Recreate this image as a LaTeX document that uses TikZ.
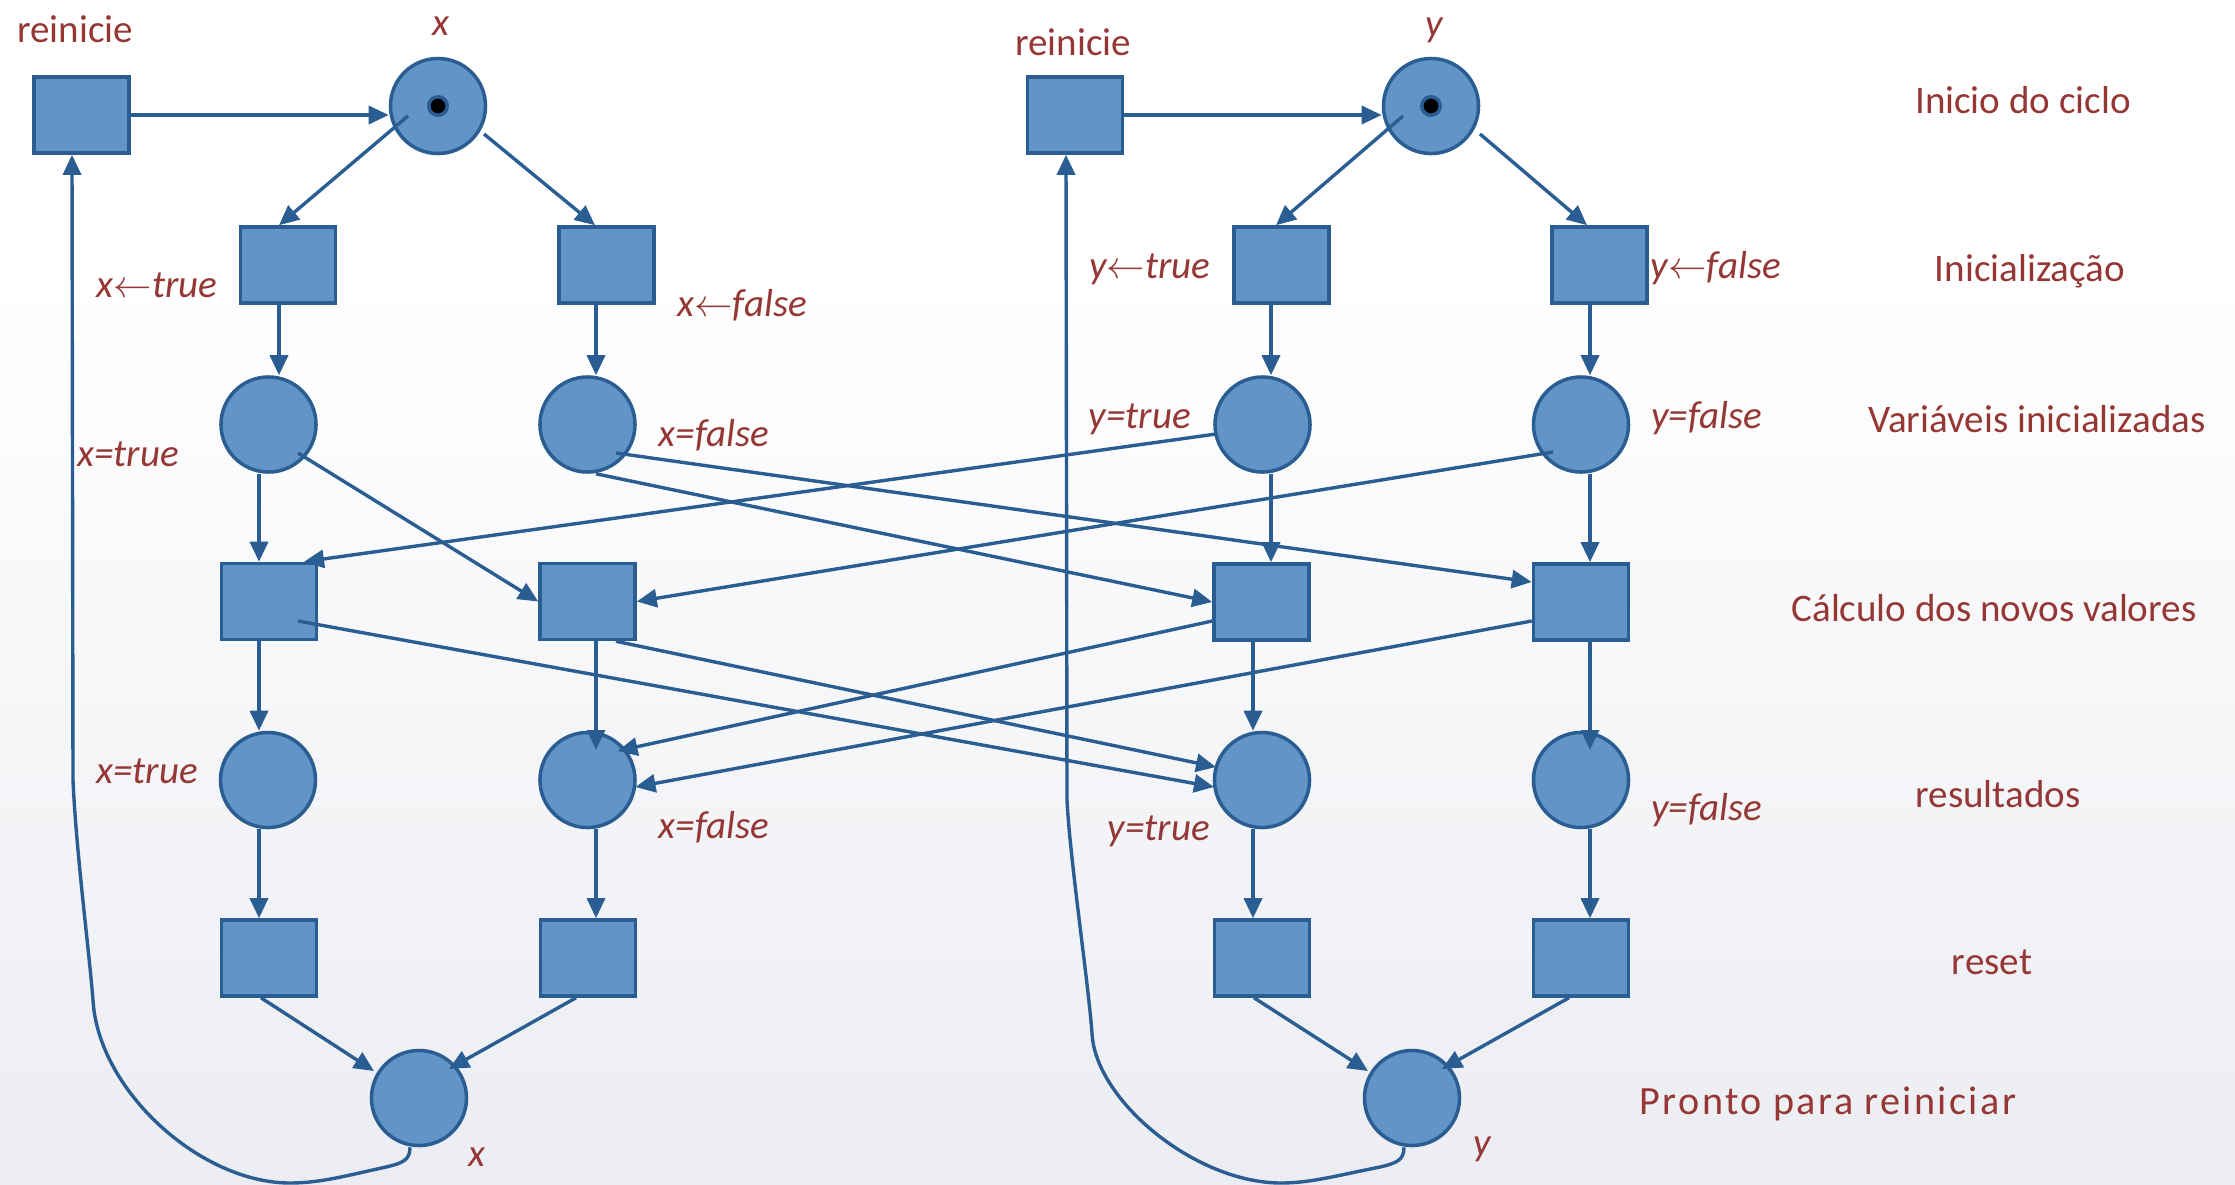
\documentclass[tikz,border=0pt]{standalone}
\usepackage{fontspec}
\setmainfont{Carlito}
\usetikzlibrary{arrows.meta}
\definecolor{netfill}{RGB}{97,148,199}
\definecolor{netline}{RGB}{42,94,146}
\definecolor{labelred}{RGB}{149,55,53}
\definecolor{bgbottom}{RGB}{236,237,242}

\begin{document}
\begin{tikzpicture}[x=0.01cm, y=-0.01cm,
  place/.style={circle, draw=netline, fill=netfill, line width=0.035cm,
    minimum size=0.95cm, inner sep=0pt},
  trans/.style={rectangle, draw=netline, fill=netfill, line width=0.035cm,
    minimum width=0.95cm, minimum height=0.76cm, inner sep=0pt},
  token/.style={circle, fill=black, draw=netline, line width=0.035cm,
    minimum size=0.185cm, inner sep=0pt},
  arc/.style={draw=netline, line width=0.034cm,
    -{Triangle[length=0.2cm,width=0.18cm]}},
  lbl/.style={text=labelred, font=\fontsize{11.1}{13}\selectfont,
    anchor=base, inner sep=0pt},
  var/.style={lbl, font=\fontsize{11.1}{13}\selectfont\itshape},
]
% background
\useasboundingbox (0,0) rectangle (2235,1184);
\fill[white] (0,0) rectangle (2235,1184);
\shade[top color=white, bottom color=bgbottom] (0,280) rectangle (2235,1184);

% ---- net for x ----
\node[trans] (R1) at (81.5,115) {};
\node[place] (Px) at (438,106) {};
\node[token] (kx) at (Px) {};
\node[trans] (T1) at (288,265) {};
\node[trans] (T2) at (606.5,265) {};
\node[place] (P1) at (268.5,424.5) {};
\node[place] (P2) at (587.5,424.5) {};
\node[trans] (C1) at (269,601.5) {};
\node[trans] (C2) at (587.5,601.5) {};
\node[place] (Q1) at (268,780) {};
\node[place] (Q2) at (587.5,780) {};
\node[trans] (X1) at (269,958) {};
\node[trans] (X2) at (588,958) {};
\node[place] (F1) at (419,1098) {};

% ---- net for y ----
\node[trans] (R2) at (1075,115) {};
\node[place] (Py) at (1431,106) {};
\node[token] (ky) at (Py) {};
\node[trans] (T3) at (1281.5,265) {};
\node[trans] (T4) at (1599.5,265) {};
\node[place] (P3) at (1262.5,424.5) {};
\node[place] (P4) at (1581,424.5) {};
\node[trans] (C3) at (1261.5,602) {};
\node[trans] (C4) at (1581,602) {};
\node[place] (Q3) at (1262,780) {};
\node[place] (Q4) at (1581,780) {};
\node[trans] (X3) at (1262,958) {};
\node[trans] (X4) at (1581,958) {};
\node[place] (F2) at (1412,1098) {};

% ---- arcs, x side ----
\draw[arc] (R1.east) -- (R1.east -| Px.west);
\draw[arc] ([shift={(-30,10)}]Px.center) -- ([shift={(-9,0)}]T1.north);
\draw[arc] ([shift={(46,28)}]Px.center) -- ([shift={(-11.5,0)}]T2.north);
\draw[arc] ([shift={(-9,0)}]T1.south) -- ([shift={(10.5,0)}]P1.north);
\draw[arc] ([shift={(-10.5,0)}]T2.south) -- ([shift={(8.5,0)}]P2.north);
\draw[arc] ([shift={(-9.5,0)}]P1.south) -- ([shift={(-10,0)}]C1.north);
\draw[arc] ([shift={(29.5,28.5)}]P1.center) -- (C2.west);
\draw[arc] ([shift={(8.5,0)}]P2.south) -- (C3.west);
\draw[arc] ([shift={(28.5,28.5)}]P2.center) -- ([shift={(0,-20)}]C4.west);
\draw[arc] ([shift={(-10,0)}]C1.south) -- ([shift={(-9,0)}]Q1.north);
\draw[arc] ([shift={(29,19.5)}]C1.center) -- ([shift={(-48,7)}]Q3.center);
\draw[arc] ([shift={(8.5,0)}]C2.south) -- ([shift={(8.5,-30)}]Q2.center);
\draw[arc] ([shift={(28.5,0)}]C2.south) -- ([shift={(-46,-13)}]Q3.center);
\draw[arc] ([shift={(-9,0)}]Q1.south) -- ([shift={(-10,0)}]X1.north);
\draw[arc] ([shift={(8.5,0)}]Q2.south) -- ([shift={(8,0)}]X2.north);
\draw[arc] ([shift={(-8,0)}]X1.south) -- ([shift={(-45,-27)}]F1.center);
\draw[arc] ([shift={(-12,0)}]X2.south) -- ([shift={(30,-29)}]F1.center);
% return arc: ready place back to the restart transition
\coordinate (f1out) at ([shift={(-9,0)}]F1.south);
\coordinate (r1in) at ([shift={(-9.5,0)}]R1.south);
\draw[arc] (f1out) .. controls (410,1160) and (403,1163) .. (386,1167)
  .. controls (345,1176) and (320,1183) .. (290,1183)
  .. controls (200,1183) and (98,1090) .. (93,1000)
  .. controls (89,950) and (76,850) .. (73,780)
  -- (r1in);

% ---- arcs, y side ----
\draw[arc] (R2.east) -- (R2.east -| Py.west);
\draw[arc] ([shift={(-28,10)}]Py.center) -- ([shift={(-5.5,0)}]T3.north);
\draw[arc] ([shift={(49,28)}]Py.center) -- ([shift={(-12.5,0)}]T4.north);
\draw[arc] ([shift={(-10.5,0)}]T3.south) -- ([shift={(8.5,0)}]P3.north);
\draw[arc] ([shift={(-9.5,0)}]T4.south) -- ([shift={(9,0)}]P4.north);
\draw[arc] ([shift={(-46.5,9.5)}]P3.center) -- ([shift={(35,0)}]C1.north);
\draw[arc] ([shift={(8.5,0)}]P3.south) -- ([shift={(9.5,0)}]C3.north);
\draw[arc] ([shift={(-28,27.5)}]P4.center) -- (C2.east);
\draw[arc] ([shift={(9,0)}]P4.south) -- ([shift={(9,0)}]C4.north);
\draw[arc] ([shift={(-8.5,0)}]C3.south) -- ([shift={(-9,0)}]Q3.north);
\draw[arc] ([shift={(0,19)}]C3.west) -- ([shift={(30,-29)}]Q2.center);
\draw[arc] ([shift={(9,0)}]C4.south) -- ([shift={(9,-30)}]Q4.center);
\draw[arc] ([shift={(0,19)}]C4.west) -- ([shift={(48,7)}]Q2.center);
\draw[arc] ([shift={(-9,0)}]Q3.south) -- ([shift={(-9,0)}]X3.north);
\draw[arc] ([shift={(9,0)}]Q4.south) -- ([shift={(9,0)}]X4.north);
\draw[arc] ([shift={(-8,0)}]X3.south) -- ([shift={(-44,-27)}]F2.center);
\draw[arc] ([shift={(-12,0)}]X4.south) -- ([shift={(30,-29)}]F2.center);
\coordinate (f2out) at ([shift={(-8,0)}]F2.south);
\coordinate (r2in) at ([shift={(-9,0)}]R2.south);
\draw[arc] (f2out) .. controls (1404,1160) and (1397,1163) .. (1380,1167)
  .. controls (1335,1176) and (1310,1183) .. (1281,1183)
  .. controls (1195,1183) and (1095,1100) .. (1092,1033)
  .. controls (1088,980) and (1070,860) .. (1067,800)
  -- (r2in);

% ---- labels on the nets ----
\node[lbl] (lr1) at (75,42) {reinicie};
\node[var] (lx1) at (441,35) {x};
\node[lbl] (lr2) at (1073,55) {reinicie};
\node[var] (ly1) at (1434,36) {y};
\node[var] (lt1) at (157,297) {x$\leftarrow$true};
\node[var] (lt2) at (742,316) {x$\leftarrow$false};
\node[var] (lt3) at (1150,278) {y$\leftarrow$true};
\node[var] (lt4) at (1716,278) {y$\leftarrow$false};
\node[var] (lp1) at (128,466) {x=true};
\node[var] (lp2) at (714,446) {x=false};
\node[var] (lp3) at (1140,428) {y=true};
\node[var] (lp4) at (1707,428) {y=false};
\node[var] (lq1) at (147,783) {x=true};
\node[var] (lq2) at (714,838) {x=false};
\node[var] (lq3) at (1159,840) {y=true};
\node[var] (lq4) at (1707,820) {y=false};
\node[var] (lx2) at (477,1166) {x};
\node[var] (ly2) at (1482,1155) {y};

% ---- stage captions ----
\node[lbl] (s1) at (2023,113) {Inicio do ciclo};
\node[lbl] (s2) at (2030,281) {Inicialização};
\node[lbl] (s3) at (2037,432) {Variáveis inicializadas};
\node[lbl] (s4) at (1994,621) {Cálculo dos novos valores};
\node[lbl] (s5) at (1998,807) {resultados};
\node[lbl] (s6) at (1992,974) {reset};
\node[lbl, font=\fontsize{11.4}{13}\selectfont\addfontfeatures{LetterSpace=6}]
  (s7) at (1828,1114) {Pronto para reiniciar};
\end{tikzpicture}
\end{document}
